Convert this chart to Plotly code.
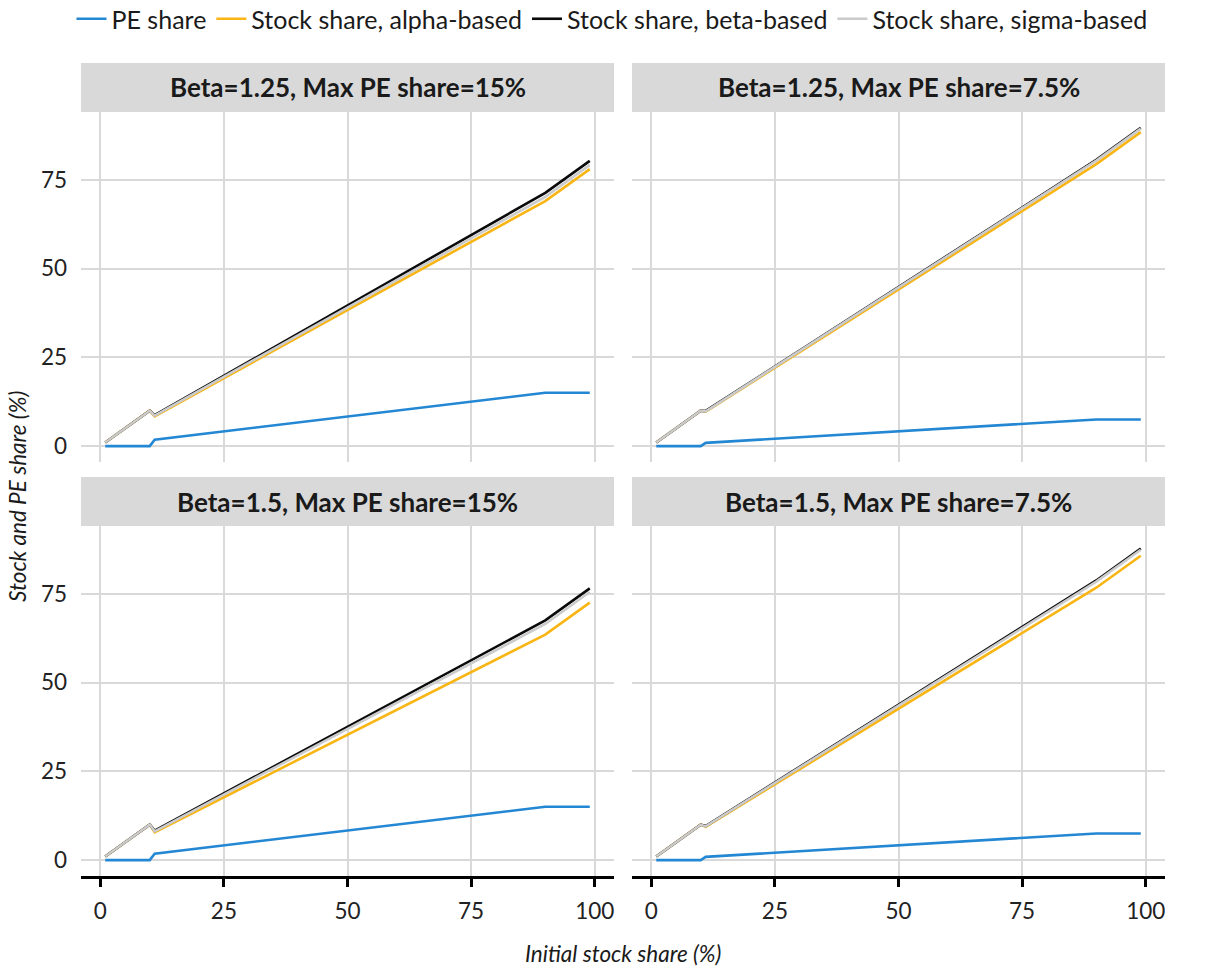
import plotly.graph_objects as go

# Breakpoints of the piecewise-linear curves (initial stock share, %)
x_share = [1, 10, 11, 90, 99]

panel_titles = [
    "Beta=1.25, Max PE share=15%",
    "Beta=1.25, Max PE share=7.5%",
    "Beta=1.5, Max PE share=15%",
    "Beta=1.5, Max PE share=7.5%",
]

pe_share = [
    [0, 0, 1.8, 15, 15],
    [0, 0, 0.9, 7.5, 7.5],
    [0, 0, 1.8, 15, 15],
    [0, 0, 0.9, 7.5, 7.5],
]
stock_alpha = [
    [1, 10, 8.4, 69.0, 78.0],
    [1, 10, 9.7, 79.4, 88.4],
    [1, 10, 7.8, 63.5, 72.5],
    [1, 10, 9.4, 76.7, 85.7],
]
stock_beta = [
    [1, 10, 8.7, 71.3, 80.3],
    [1, 10, 9.9, 80.6, 89.6],
    [1, 10, 8.3, 67.5, 76.5],
    [1, 10, 9.6, 78.75, 87.75],
]
stock_sigma = [
    [1, 10, 8.6, 70.2, 79.2],
    [1, 10, 9.8, 80.4, 89.4],
    [1, 10, 8.1, 66.5, 75.5],
    [1, 10, 9.5, 78.4, 87.4],
]

series_names = ["PE share", "Stock share, alpha-based",
                "Stock share, beta-based", "Stock share, sigma-based"]
series_colors = ["#2387d3", "#f9b514", "#0a0a0a", "#cbcbcb"]
series_data = [pe_share, stock_alpha, stock_beta, stock_sigma]

x_ticks = [0, 25, 50, 75, 100]
y_ticks = [0, 25, 50, 75]

FONT = "Lato"
fig = go.Figure()

W, H = 1206, 968
ml, mr, mt, mb = 81, 41, 112, 92
pw = W - ml - mr
ph = H - mt - mb

def px_x(p):
    return (p - ml) / pw

def px_y(p):
    return (H - mb - p) / ph

x_domains = [[0, px_x(614)], [px_x(632), 1]]
y_domains = [[px_y(462), 1], [0, px_y(526)]]

for i in range(4):
    r, c = divmod(i, 2)
    ax = "" if i == 0 else str(i + 1)
    for s in range(4):
        fig.add_trace(go.Scatter(
            x=x_share, y=series_data[s][i], mode="lines",
            name=series_names[s], legendgroup=series_names[s],
            showlegend=(i == 0),
            line=dict(color=series_colors[s], width=2.6),
            xaxis="x" + ax, yaxis="y" + ax, hoverinfo="skip"))
    bottom = (r == 1)
    fig.layout["xaxis" + ax] = dict(
        domain=x_domains[c], range=[-3.9, 103.9], anchor="y" + ax,
        tickvals=x_ticks, showticklabels=bottom,
        showgrid=True, gridcolor="#d9d9d9", gridwidth=2, zeroline=False,
        showline=bottom, linecolor="black", linewidth=2.5,
        ticks="outside" if bottom else "", ticklen=8, tickwidth=2.5, tickcolor="black",
        ticklabelstandoff=5,
        tickfont=dict(family=FONT, size=22.5, color="#222222"), fixedrange=True)
    fig.layout["yaxis" + ax] = dict(
        domain=y_domains[r], range=[-4.48, 94.08], anchor="x" + ax,
        tickvals=y_ticks, showticklabels=(c == 0),
        showgrid=True, gridcolor="#d9d9d9", gridwidth=2, zeroline=False,
        showline=False, ticks="", ticklabelstandoff=13,
        tickfont=dict(family=FONT, size=22.5, color="#222222"), fixedrange=True)
    # facet strip
    y0 = y_domains[r][1]
    y1 = y0 + 49 / ph
    fig.add_shape(type="rect", xref="paper", yref="paper",
                  x0=x_domains[c][0], x1=x_domains[c][1], y0=y0, y1=y1,
                  fillcolor="#d9d9d9", line=dict(width=0), layer="below")
    fig.add_annotation(text="<b>" + panel_titles[i] + "</b>", xref="paper", yref="paper",
                       x=(x_domains[c][0] + x_domains[c][1]) / 2, y=(y0 + y1) / 2,
                       xanchor="center", yanchor="middle", showarrow=False,
                       font=dict(family=FONT, size=26, color="#1a1a1a"))

fig.add_annotation(text="<i>Stock and PE share (%)</i>", xref="paper", yref="paper",
                   x=px_x(17), y=px_y(497), xanchor="center", yanchor="middle",
                   textangle=-90, showarrow=False,
                   font=dict(family=FONT, size=22.5, color="#1a1a1a"))
fig.add_annotation(text="<i>Initial stock share (%)</i>", xref="paper", yref="paper",
                   x=px_x(623), y=px_y(953), xanchor="center", yanchor="middle",
                   showarrow=False, font=dict(family=FONT, size=22.5, color="#1a1a1a"))

fig.update_layout(
    width=W, height=H,
    margin=dict(l=ml, r=mr, t=mt, b=mb, autoexpand=False),
    paper_bgcolor="white", plot_bgcolor="white",
    font=dict(family=FONT, color="#1a1a1a"),
    legend=dict(orientation="h", xref="container", x=612 / W, xanchor="center",
                yref="container", y=1 - 19 / H, yanchor="middle",
                font=dict(family=FONT, size=25, color="#1a1a1a"),
                itemwidth=30, tracegroupgap=0, bgcolor="rgba(0,0,0,0)"),
)

fig.write_html("out.html")
